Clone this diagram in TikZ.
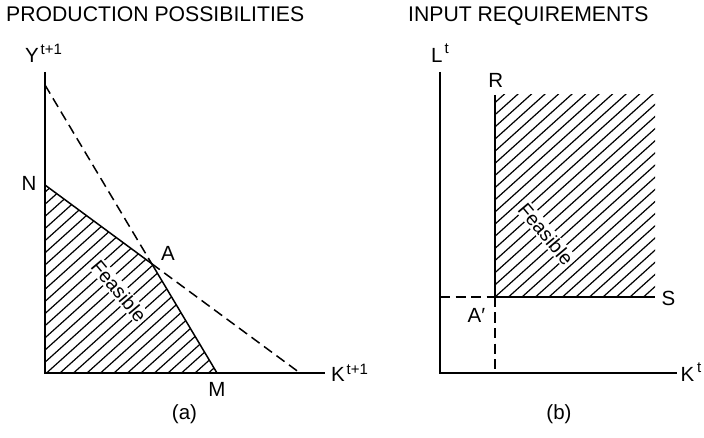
\documentclass[tikz,border=0pt]{standalone}
\usepackage{fontspec}
\setmainfont{Liberation Sans}
\begin{document}
\begin{tikzpicture}[x=1pt,y=-1pt,
  axisline/.style={line width=1.5pt},
  dashline/.style={line width=1.5pt, dash pattern=on 10pt off 5.5pt},
  frontier/.style={line width=1.5pt},
  hatchline/.style={line width=1.2pt},
  lbl/.style={inner sep=0pt, font=\fontsize{20.5}{24}\selectfont},
  suplbl/.style={inner sep=0pt, font=\fontsize{15}{17}\selectfont},
  titlelbl/.style={inner sep=0pt, font=\fontsize{21.2}{24}\selectfont},
  feas/.style={inner sep=1.5pt, fill=white, rotate=-50, font=\fontsize{19.5}{22}\selectfont}]
\useasboundingbox (0,0) rectangle (704,438);

% ---------- panel (a) ----------
\coordinate (O1) at (45,373);
\coordinate (Ytop) at (45,72);
\coordinate (Kend1) at (325,373);
\coordinate (Yint) at (45,85);
\coordinate (N) at (45,185);
\coordinate (M) at (217,373);
\coordinate (Kint) at (300,373);
\coordinate (A) at (intersection of N--Kint and Yint--M);

\begin{scope}
  \clip (N) -- (A) -- (M) -- (O1) -- cycle;
  \foreach \c in {-210,-196.5,...,230} \draw[hatchline] (\c,373) -- ++(400,-360);
\end{scope}

\draw[axisline] (Ytop) -- (O1) -- (Kend1);
\draw[frontier] (N) -- (A) -- (M);
\draw[dashline] (Yint) -- (A);
\draw[dashline] (A) -- (Kint);

\node[feas] (feasA) at (119,291) {Feasible};

\node[titlelbl, anchor=base west] (titleA) at (6,21.7) {PRODUCTION POSSIBILITIES};
\node[lbl, anchor=base west] (Ylbl) at (25,62.7) {Y};
\node[suplbl, anchor=base west] (Ysup) at (40.5,55) {t+1};
\node[lbl, anchor=base west] (Nlbl) at (21.5,191) {N};
\node[lbl, anchor=base west] (Albl) at (161,260.7) {A};
\node[lbl, anchor=base] (Mlbl) at (217,396.7) {M};
\node[lbl, anchor=base west] (Klbl) at (331,381.7) {K};
\node[suplbl, anchor=base west] (Ksup) at (346.5,374) {t+1};
\node[lbl, anchor=base] (alab) at (184.5,419.5) {(a)};

% ---------- panel (b) ----------
\coordinate (O2) at (440,373);
\coordinate (Ltop) at (440,72);
\coordinate (Kend2) at (677,373);
\coordinate (Ap) at (495,297);
\coordinate (Rtop) at (495,95);
\coordinate (Send) at (655,297);
\coordinate (Lmark) at (440,297);
\coordinate (Kmark) at (495,373);

\begin{scope}
  \clip (Rtop) rectangle (Send);
  \foreach \c in {225,238.5,...,660} \draw[hatchline] (\c,297) -- ++(400,-360);
\end{scope}

\draw[axisline] (Ltop) -- (O2) -- (Kend2);
\draw[frontier] (Rtop) -- (Ap) -- (Send);
\draw[dashline] (Lmark) -- (Ap);
\draw[dashline] (Ap) -- (Kmark);

\node[feas] (feasB) at (546,234) {Feasible};

\node[titlelbl, anchor=base west] (titleB) at (408,21.7) {INPUT REQUIREMENTS};
\node[lbl, anchor=base west] (Llbl) at (431,62.7) {L};
\node[suplbl, anchor=base west] (Lsup) at (444.5,54) {t};
\node[lbl, anchor=base] (Rlbl) at (495.7,87.3) {R};
\node[lbl, anchor=base west] (Slbl) at (661.5,305.7) {S};
\node[lbl, anchor=base west] (Aplbl) at (467.5,322.7) {A′};
\node[lbl, anchor=base west] (K2lbl) at (680.5,381.7) {K};
\node[suplbl, anchor=base west] (K2sup) at (697,372) {t};
\node[lbl, anchor=base] (blab) at (559,419.5) {(b)};
\end{tikzpicture}
\end{document}
